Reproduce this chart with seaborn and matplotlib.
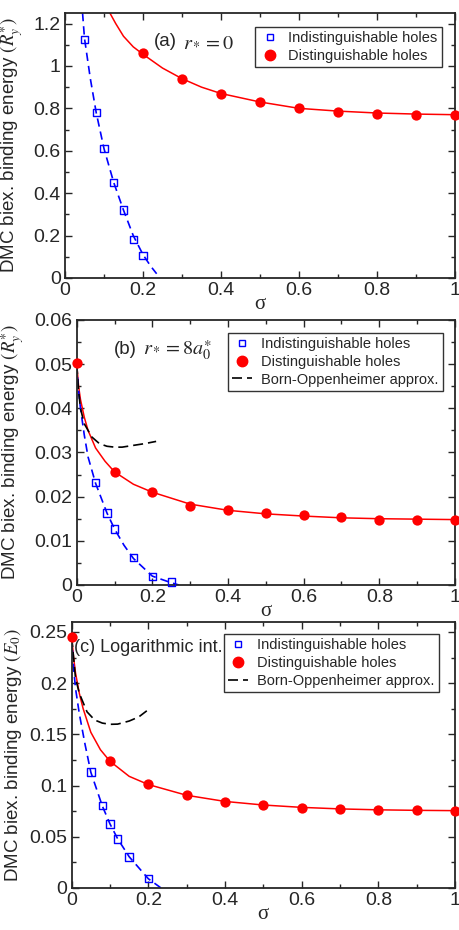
import numpy as np
import pandas as pd
import seaborn as sns
import matplotlib.pyplot as plt
from matplotlib.ticker import MultipleLocator
from matplotlib.lines import Line2D

# ---- panel (a): r* = 0 ----
a_ind_x = [0.05, 0.08, 0.1, 0.125, 0.15, 0.175, 0.2]
a_ind_y = [1.125, 0.78, 0.61, 0.45, 0.32, 0.18, 0.105]
a_dis_x = [0.2, 0.3, 0.4, 0.5, 0.6, 0.7, 0.8, 0.9, 1.0]
a_dis_y = [1.06, 0.94, 0.87, 0.83, 0.80, 0.785, 0.775, 0.77, 0.77]
a_ind_fit_x = [0.045, 0.05, 0.065, 0.08, 0.1, 0.125, 0.15, 0.175, 0.2, 0.22, 0.235]
a_ind_fit_y = [1.25, 1.13, 0.94, 0.78, 0.61, 0.45, 0.32, 0.20, 0.11, 0.055, 0.02]
a_dis_fit_x = [0.115, 0.13, 0.15, 0.175, 0.2, 0.25, 0.3, 0.35, 0.4, 0.5, 0.6, 0.7, 0.8, 0.9, 1.0]
a_dis_fit_y = [1.25, 1.20, 1.14, 1.09, 1.055, 0.99, 0.94, 0.90, 0.87, 0.83, 0.80, 0.787, 0.778, 0.773, 0.77]

# ---- panel (b): r* = 8a0* ----
b_ind_x = [0.05, 0.08, 0.1, 0.15, 0.2, 0.25]
b_ind_y = [0.0232, 0.0163, 0.0127, 0.0062, 0.0019, 0.0007]
b_dis_x = [0.0, 0.1, 0.2, 0.3, 0.4, 0.5, 0.6, 0.7, 0.8, 0.9, 1.0]
b_dis_y = [0.0502, 0.0256, 0.021, 0.0179, 0.0169, 0.0163, 0.0158, 0.0153, 0.0148, 0.0148, 0.0148]
b_ind_fit_x = [0.0, 0.005, 0.01, 0.02, 0.03, 0.05, 0.08, 0.1, 0.125, 0.15, 0.2, 0.25, 0.27]
b_ind_fit_y = [0.050, 0.044, 0.040, 0.034, 0.029, 0.023, 0.0163, 0.0127, 0.009, 0.006, 0.002, 0.0005, 0.0]
b_dis_fit_x = [0.0, 0.005, 0.01, 0.02, 0.03, 0.05, 0.075, 0.1, 0.15, 0.2, 0.3, 0.4, 0.5, 0.6, 0.7, 0.8, 0.9, 1.0]
b_dis_fit_y = [0.0502, 0.045, 0.042, 0.038, 0.035, 0.031, 0.028, 0.0256, 0.0228, 0.021, 0.0183, 0.0169,
               0.0161, 0.0156, 0.0152, 0.015, 0.0149, 0.0148]
b_bo_x = [0.0, 0.005, 0.01, 0.02, 0.04, 0.06, 0.08, 0.1, 0.12, 0.15, 0.18, 0.21]
b_bo_y = [0.050, 0.044, 0.040, 0.0365, 0.0335, 0.032, 0.0314, 0.0312, 0.0312, 0.0316, 0.032, 0.0325]

# ---- panel (c): logarithmic interaction ----
c_ind_x = [0.05, 0.08, 0.1, 0.12, 0.15, 0.2]
c_ind_y = [0.1133, 0.0803, 0.0624, 0.0477, 0.0304, 0.0091]
c_dis_x = [0.0, 0.1, 0.2, 0.3, 0.4, 0.5, 0.6, 0.7, 0.8, 0.9, 1.0]
c_dis_y = [0.245, 0.1237, 0.1012, 0.0903, 0.0843, 0.0806, 0.0785, 0.077, 0.0762, 0.0757, 0.0755]
c_ind_fit_x = [0.0, 0.005, 0.01, 0.02, 0.035, 0.05, 0.08, 0.1, 0.12, 0.15, 0.2, 0.233]
c_ind_fit_y = [0.245, 0.215, 0.195, 0.17, 0.14, 0.113, 0.08, 0.0625, 0.048, 0.0305, 0.009, 0.0]
c_dis_fit_x = [0.0, 0.005, 0.01, 0.02, 0.03, 0.05, 0.075, 0.1, 0.15, 0.2, 0.3, 0.4, 0.5, 0.6, 0.7, 0.8, 0.9, 1.0]
c_dis_fit_y = [0.245, 0.225, 0.21, 0.19, 0.175, 0.152, 0.135, 0.1237, 0.109, 0.101, 0.0905, 0.0845,
               0.081, 0.0787, 0.0772, 0.0763, 0.0758, 0.0755]
c_bo_x = [0.0, 0.01, 0.02, 0.04, 0.06, 0.08, 0.1, 0.12, 0.15, 0.175, 0.196]
c_bo_y = [0.245, 0.205, 0.19, 0.172, 0.164, 0.161, 0.1598, 0.160, 0.163, 0.167, 0.173]

sns.set_style("ticks")
plt.rcParams['font.family'] = ['Liberation Sans', 'DejaVu Sans']
plt.rcParams['mathtext.fontset'] = 'stix'

BLUE = '#0000ff'
RED = '#ff0000'

fig = plt.figure(figsize=(4.6, 9.3), dpi=100)
ax_a = fig.add_axes([0.1413, 0.7011, 0.8478, 0.285])
ax_b = fig.add_axes([0.1667, 0.371, 0.8224, 0.285])
ax_c = fig.add_axes([0.1558, 0.0452, 0.8333, 0.2863])


def draw_panel(ax, ind_x, ind_y, dis_x, dis_y, ifx, ify, dfx, dfy, bo_x=None, bo_y=None):
    sns.lineplot(x=dfx, y=dfy, ax=ax, color=RED, lw=1.1, sort=False, estimator=None)
    sns.lineplot(x=ifx, y=ify, ax=ax, color=BLUE, lw=1.2, sort=False,
                 estimator=None).lines[-1].set_dashes([5, 3])
    if bo_x is not None:
        sns.lineplot(x=bo_x, y=bo_y, ax=ax, color='black', lw=1.2, sort=False,
                     estimator=None).lines[-1].set_dashes([6, 3])
    sns.scatterplot(x=dis_x, y=dis_y, ax=ax, marker='o', s=55, color=RED, edgecolor=RED,
                    linewidth=0, zorder=5, clip_on=False)
    sns.scatterplot(x=ind_x, y=ind_y, ax=ax, marker='s', s=28, facecolor='none',
                    edgecolor=BLUE, linewidth=1.0, zorder=6, clip_on=False)


def style_axes(ax, ymax, ymaj, ymin, ylabel, ylab_x):
    ax.set_xlim(0, 1)
    ax.set_ylim(0, ymax)
    ax.xaxis.set_major_locator(MultipleLocator(0.2))
    ax.xaxis.set_minor_locator(MultipleLocator(0.1))
    ax.yaxis.set_major_locator(MultipleLocator(ymaj))
    ax.yaxis.set_minor_locator(MultipleLocator(ymin))
    ax.tick_params(which='both', direction='in', top=True, right=True, labelsize=14, pad=3)
    ax.tick_params(which='major', length=5, width=1)
    ax.tick_params(which='minor', length=3, width=1)
    ax.xaxis.set_major_formatter(plt.FuncFormatter(lambda v, p: f'{v:g}'))
    ax.yaxis.set_major_formatter(plt.FuncFormatter(lambda v, p: f'{v:g}'))
    for s in ax.spines.values():
        s.set_linewidth(1.3)
    ax.set_xlabel('σ', fontsize=15, family=['Liberation Serif', 'DejaVu Serif'], labelpad=-3)
    ax.set_ylabel(ylabel, fontsize=13.5)
    ax.yaxis.set_label_coords(ylab_x, 0.5)


draw_panel(ax_a, a_ind_x, a_ind_y, a_dis_x, a_dis_y, a_ind_fit_x, a_ind_fit_y, a_dis_fit_x, a_dis_fit_y)
draw_panel(ax_b, b_ind_x, b_ind_y, b_dis_x, b_dis_y, b_ind_fit_x, b_ind_fit_y, b_dis_fit_x, b_dis_fit_y,
           b_bo_x, b_bo_y)
draw_panel(ax_c, c_ind_x, c_ind_y, c_dis_x, c_dis_y, c_ind_fit_x, c_ind_fit_y, c_dis_fit_x, c_dis_fit_y,
           c_bo_x, c_bo_y)

ylab_r = r'DMC biex. binding energy $(R_y^{\ast})$'
ylab_e = r'DMC biex. binding energy $(E_0)$'
style_axes(ax_a, 1.25, 0.2, 0.1, ylab_r, -0.103)
style_axes(ax_b, 0.06, 0.01, 0.005, ylab_r, -0.134)
style_axes(ax_c, 0.26, 0.05, 0.025, ylab_e, -0.125)

ax_a.text(0.228, 1.115, '(a)', fontsize=13.5, va='center')
ax_a.annotate(r'$r_* = 0$', xy=(0.228, 1.115), xytext=(21, 0), textcoords='offset points',
              fontsize=14.5, va='center')
ax_b.text(0.097, 0.0532, '(b)', fontsize=13.5, va='center')
ax_b.annotate(r'$r_* = 8a_0^{\ast}$', xy=(0.097, 0.0532), xytext=(21, 0), textcoords='offset points',
              fontsize=14.5, va='center')
ax_c.text(0.006, 0.235, '(c) Logarithmic int.', fontsize=13, va='center')

h_ind = Line2D([], [], ls='none', marker='s', ms=5, mfc='none', mec=BLUE, mew=1.0)
h_dis = Line2D([], [], ls='none', marker='o', ms=7.5, mfc=RED, mec=RED)
h_bo = Line2D([], [], color='black', lw=1.2, dashes=[6, 3])
leg_kw = dict(frameon=True, fancybox=False, fontsize=10.5, handlelength=1.4, handletextpad=0.6,
              borderpad=0.3, labelspacing=0.25, borderaxespad=0.0, edgecolor='black')
for ax, handles, labels, anchor in [
        (ax_a, [h_ind, h_dis], ['Indistinguishable holes', 'Distinguishable holes'], (0.967, 0.947)),
        (ax_b, [h_ind, h_dis, h_bo], ['Indistinguishable holes', 'Distinguishable holes',
                                      'Born-Oppenheimer approx.'], (0.968, 0.951)),
        (ax_c, [h_ind, h_dis, h_bo], ['Indistinguishable holes', 'Distinguishable holes',
                                      'Born-Oppenheimer approx.'], (0.958, 0.954))]:
    leg = ax.legend(handles, labels, loc='upper right', bbox_to_anchor=anchor, **leg_kw)
    leg.get_frame().set_linewidth(1.0)

plt.savefig('out.png', dpi=100)
plt.close()
